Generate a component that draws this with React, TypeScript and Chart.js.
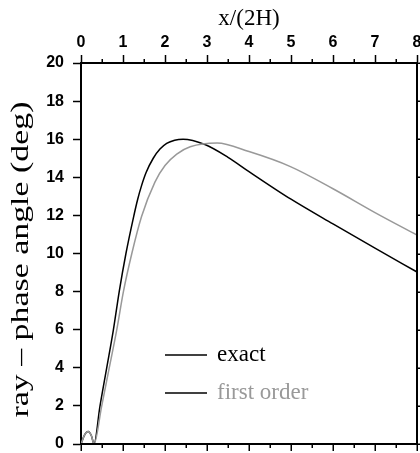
import React, { useEffect, useRef } from 'react';
import { Chart, registerables } from 'chart.js';

Chart.register(...registerables);

// ---- data ----
const xTickValues = [0, 1, 2, 3, 4, 5, 6, 7, 8];
const yTickValues = [0, 2, 4, 6, 8, 10, 12, 14, 16, 18, 20];
const seriesLabels = ['exact', 'first order'];
const xTitle = 'x/(2H)';
const yTitle = 'ray \u2013 phase angle (deg)';

const exactX = [0, 0.08, 0.17, 0.25, 0.31, 0.45, 0.61, 0.77, 0.91, 1.07, 1.25, 1.35, 1.44, 1.55, 1.72, 1.88, 2.04, 2.23, 2.43, 2.95, 3.5, 4, 5, 6, 7, 8];
const exactY = [0, 0.45, 0.65, 0.42, 0, 1.96, 3.97, 5.98, 8.0, 10.0, 11.9, 12.85, 13.55, 14.25, 15.0, 15.48, 15.78, 15.95, 16.0, 15.72, 15.05, 14.3, 12.85, 11.55, 10.28, 9.03];

const firstX = [0, 0.08, 0.17, 0.25, 0.31, 0.49, 0.67, 0.85, 1.01, 1.21, 1.44, 1.76, 2.0, 2.28, 2.6, 3.24, 4, 5, 6, 7, 8];
const firstY = [0, 0.45, 0.65, 0.42, 0, 1.96, 3.97, 5.98, 8.0, 10.0, 11.93, 13.75, 14.62, 15.22, 15.6, 15.8, 15.35, 14.55, 13.4, 12.15, 10.97];

const BLACK = '#000000';
const GRAY = '#999999';

const toPoints = (xs: number[], ys: number[]) => xs.map((x, i) => ({ x, y: ys[i] }));

const framePlugin = {
  id: 'frameAndLegend',
  afterDraw(chart: any) {
    const { ctx, chartArea: a, scales } = chart;
    const xs = scales.x;
    const ys = scales.y;
    ctx.save();
    ctx.strokeStyle = BLACK;
    ctx.lineWidth = 2;
    ctx.beginPath();
    ctx.moveTo(a.left, a.bottom);
    ctx.lineTo(a.right, a.bottom);
    ctx.lineTo(a.right, a.top);
    ctx.stroke();

    ctx.lineWidth = 1.5;
    const xMin = xTickValues[0];
    const xMax = xTickValues[xTickValues.length - 1];
    for (let v = xMin; v <= xMax + 1e-9; v += 0.5) {
      const px = Math.round(xs.getPixelForValue(v)) + 0.25;
      const major = Math.abs(v - Math.round(v)) < 1e-9;
      ctx.beginPath();
      ctx.moveTo(px, a.bottom);
      ctx.lineTo(px, a.bottom + (major ? 7 : 4));
      ctx.stroke();
      if (!major) {
        ctx.beginPath();
        ctx.moveTo(px, a.top);
        ctx.lineTo(px, a.top - 4);
        ctx.stroke();
      }
    }
    for (const v of yTickValues) {
      const py = Math.round(ys.getPixelForValue(v)) + 0.25;
      ctx.beginPath();
      ctx.moveTo(a.right, py);
      ctx.lineTo(a.right + 6, py);
      ctx.stroke();
    }

    // y title (slightly stretched serif text)
    ctx.save();
    ctx.font = '26px "Liberation Serif", "Times New Roman", serif';
    const w = ctx.measureText(yTitle).width;
    const sx = 316 / w;
    ctx.translate(28, (a.top + a.bottom) / 2 + 6);
    ctx.rotate(-Math.PI / 2);
    ctx.scale(sx, 1);
    ctx.fillStyle = BLACK;
    ctx.textAlign = 'center';
    ctx.textBaseline = 'alphabetic';
    ctx.fillText(yTitle, 0, 0);
    ctx.restore();

    // legend
    const entries = [
      { y: 355, color: BLACK },
      { y: 393, color: GRAY },
    ];
    ctx.font = '23px "Liberation Serif", "Times New Roman", serif';
    ctx.textBaseline = 'middle';
    ctx.textAlign = 'left';
    chart.data.datasets.forEach((ds: any, i: number) => {
      const e = entries[i];
      ctx.strokeStyle = BLACK;
      ctx.lineWidth = 1.5;
      ctx.beginPath();
      ctx.moveTo(165, e.y);
      ctx.lineTo(207, e.y);
      ctx.stroke();
      ctx.fillStyle = e.color;
      ctx.fillText(ds.label, 217, e.y);
    });
    ctx.restore();
  },
};

export default function App() {
  const ref = useRef<HTMLCanvasElement | null>(null);

  useEffect(() => {
    if (!ref.current) return;
    const tickFont = { family: '"Liberation Sans", Arial, sans-serif', size: 16, weight: 'bold' as const };
    const chart = new Chart(ref.current, {
      type: 'scatter',
      data: {
        datasets: [
          {
            label: seriesLabels[0],
            data: toPoints(exactX, exactY),
            showLine: true,
            borderColor: BLACK,
            borderWidth: 1.5,
            pointRadius: 0,
            cubicInterpolationMode: 'monotone',
            fill: false,
            order: 1,
          },
          {
            label: seriesLabels[1],
            data: toPoints(firstX, firstY),
            showLine: true,
            borderColor: GRAY,
            borderWidth: 1.5,
            pointRadius: 0,
            cubicInterpolationMode: 'monotone',
            fill: false,
            order: 0,
          },
        ],
      },
      options: {
        animation: false,
        responsive: true,
        maintainAspectRatio: false,
        layout: { padding: { top: 0, left: 0, right: 3, bottom: 9 } },
        plugins: {
          legend: { display: false },
          tooltip: { enabled: false },
        },
        scales: {
          x: {
            type: 'linear',
            position: 'top',
            min: 0,
            max: 8,
            afterFit: (s: any) => {
              s.height = 63;
              s.paddingLeft = 0;
              s.paddingRight = 0;
            },
            afterBuildTicks: (s: any) => {
              s.ticks = xTickValues.map((v) => ({ value: v }));
            },
            ticks: { color: BLACK, font: tickFont, padding: 3, maxRotation: 0, autoSkip: false },
            grid: { drawOnChartArea: false, drawTicks: true, tickLength: 8, tickWidth: 1.5, tickColor: BLACK },
            border: { display: true, width: 2, color: BLACK },
            title: {
              display: true,
              text: xTitle,
              color: BLACK,
              font: { family: '"Liberation Serif", "Times New Roman", serif', size: 23 },
              padding: { top: 5, bottom: 0 },
            },
          },
          y: {
            type: 'linear',
            position: 'left',
            min: 0,
            max: 20,
            afterFit: (s: any) => {
              s.width = 81;
              s.paddingTop = 0;
              s.paddingBottom = 0;
            },
            afterBuildTicks: (s: any) => {
              s.ticks = yTickValues.map((v) => ({ value: v }));
            },
            ticks: { color: BLACK, font: tickFont, padding: 9, autoSkip: false },
            grid: { drawOnChartArea: false, drawTicks: true, tickLength: 8, tickWidth: 1.5, tickColor: BLACK },
            border: { display: true, width: 2, color: BLACK },
            title: { display: false },
          },
        },
      },
      plugins: [framePlugin],
    } as any);
    return () => chart.destroy();
  }, []);

  return (
    <div style={{ position: 'fixed', left: 0, top: 0, width: 420, height: 453, background: '#fff' }}>
      <canvas ref={ref} />
    </div>
  );
}
